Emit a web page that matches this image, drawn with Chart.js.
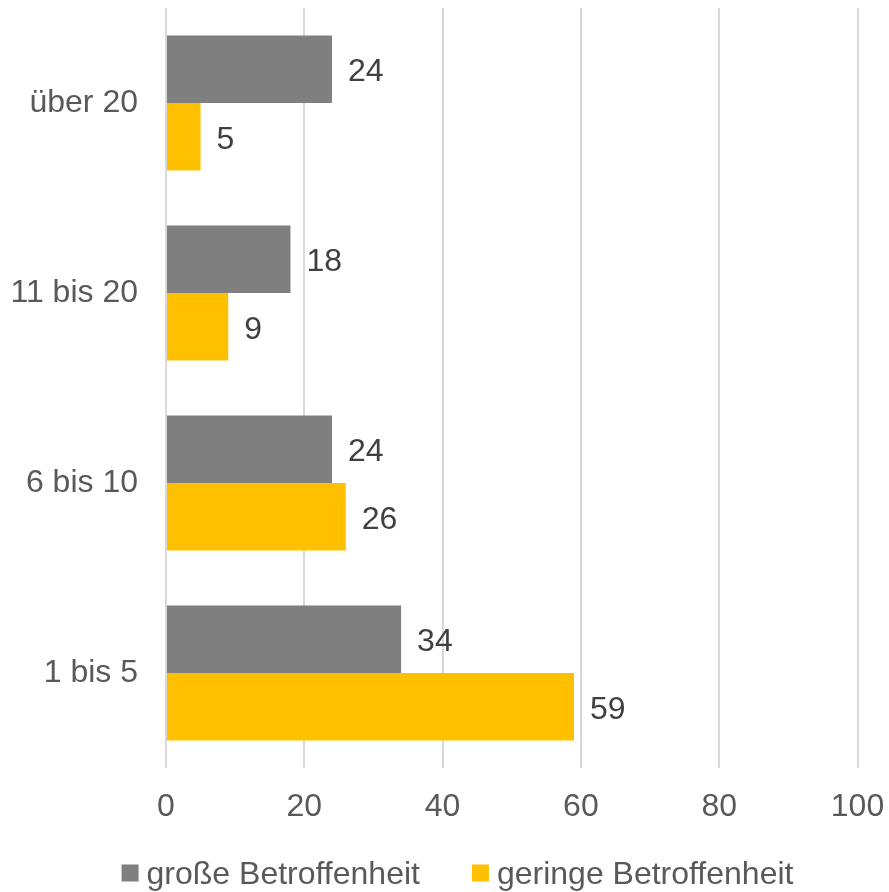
<!DOCTYPE html>
<html>
<head>
<meta charset="utf-8">
<script src="https://cdn.jsdelivr.net/npm/chart.js@4.4.1/dist/chart.umd.min.js"></script>
<style>
  html, body { margin: 0; padding: 0; background: #fff; }
  #wrap { width: 889px; height: 892px; }
</style>
</head>
<body>
<div id="wrap"><canvas id="chart"></canvas></div>
<script>
const categories = ["über 20", "11 bis 20", "6 bis 10", "1 bis 5"];
const grosse = [24, 18, 24, 34];
const geringe = [5, 9, 26, 59];
const seriesNames = ["große Betroffenheit", "geringe Betroffenheit"];
const xTicks = [0, 20, 40, 60, 80, 100];

const FONT = "'Liberation Sans', Arial, sans-serif";

// value labels at the end of each bar
const barLabels = {
  id: "barLabels",
  afterDatasetsDraw(chart) {
    const ctx = chart.ctx;
    ctx.save();
    ctx.font = "32px " + FONT;
    ctx.fillStyle = "#404040";
    ctx.textAlign = "left";
    ctx.textBaseline = "middle";
    chart.data.datasets.forEach((ds, i) => {
      chart.getDatasetMeta(i).data.forEach((bar, j) => {
        ctx.fillText(ds.data[j], bar.x + 16, bar.y + 3);
      });
    });
    ctx.restore();
  }
};

// legend row under the axis (box, small gap, text)
const bottomLegend = {
  id: "bottomLegend",
  afterDraw(chart) {
    const ctx = chart.ctx;
    ctx.save();
    ctx.font = "32px " + FONT;
    ctx.textAlign = "left";
    ctx.textBaseline = "middle";
    const box = 17, gap = 8, between = 52, y = 873;
    const items = chart.data.datasets.map(ds => ({
      text: ds.label, color: ds.backgroundColor, w: ctx.measureText(ds.label).width
    }));
    let total = items.reduce((s, it) => s + box + gap + it.w, 0) + between * (items.length - 1);
    let x = chart.width / 2 + 13 - total / 2;
    items.forEach(it => {
      ctx.fillStyle = it.color;
      ctx.fillRect(x, y - box / 2, box, box);
      ctx.fillStyle = "#595959";
      ctx.fillText(it.text, x + box + gap, y + 2);
      x += box + gap + it.w + between;
    });
    ctx.restore();
  }
};

new Chart(document.getElementById("chart"), {
  type: "bar",
  data: {
    labels: categories,
    datasets: [
      { label: seriesNames[0], data: grosse, backgroundColor: "#7f7f7f" },
      { label: seriesNames[1], data: geringe, backgroundColor: "#ffc000" }
    ]
  },
  options: {
    indexAxis: "y",
    responsive: true,
    maintainAspectRatio: false,
    animation: false,
    categoryPercentage: 0.71,
    barPercentage: 1.0,
    layout: { padding: { top: 8, left: 0, right: 31.5, bottom: 69 } },
    scales: {
      x: {
        min: 0,
        max: 100,
        afterBuildTicks: axis => { axis.ticks = xTicks.map(v => ({ value: v })); },
        afterFit: axis => {
          axis.height = 55;
          axis.paddingLeft = 0;
          axis.paddingRight = 0;
        },
        grid: { color: "#d9d9d9", lineWidth: 2, drawTicks: false },
        border: { display: false },
        ticks: { padding: 20, color: "#595959", font: { size: 32, family: FONT } }
      },
      y: {
        afterFit: axis => {
          axis.width = 166;
          axis.paddingTop = 0;
          axis.paddingBottom = 0;
        },
        grid: { display: false, drawTicks: false },
        border: { display: false },
        ticks: { padding: 28, color: "#595959", font: { size: 32, family: FONT } }
      }
    },
    plugins: {
      legend: { display: false },
      tooltip: { enabled: false }
    }
  },
  plugins: [barLabels, bottomLegend]
});
</script>
</body>
</html>
